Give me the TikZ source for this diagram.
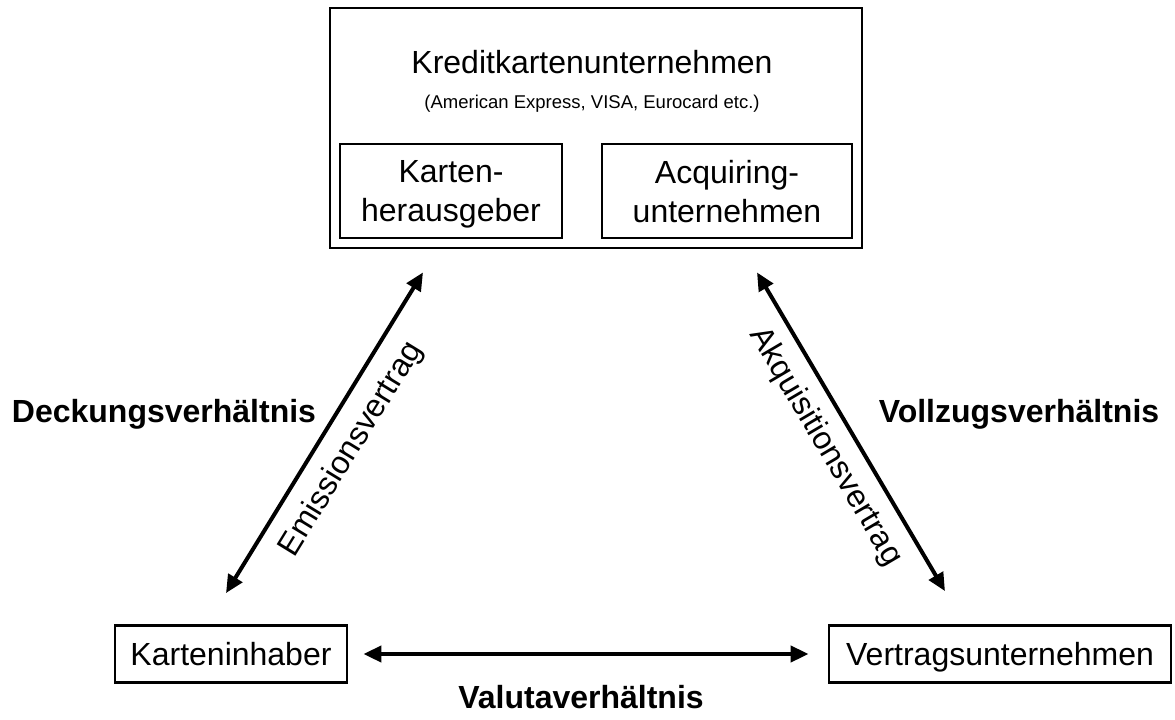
\documentclass[tikz,border=0pt]{standalone}
\usepackage{fontspec}
\setmainfont{Liberation Sans}
\usepackage{tikz}
\usetikzlibrary{positioning,arrows.meta}

\begin{document}
\begin{tikzpicture}[x=0.5pt,y=-0.5pt,
    every node/.style={font=\fontsize{16}{19.5}\selectfont},
    box/.style={draw,line width=1.4pt,inner sep=0pt,align=center,text depth=0pt},
    rel/.style={font=\fontsize{16}{19}\selectfont\bfseries},
    arr/.style={{Triangle[length=9pt,width=8pt]}-{Triangle[length=9pt,width=8pt]},line width=2pt}]
  \useasboundingbox (0,0) rectangle (1175,719);
  \node[box,minimum width=266pt,minimum height=120pt] (KU) at (596,128) {};
  \node (KUname) at (592,62) {Kreditkartenunternehmen};
  \node[font=\fontsize{9.25}{11}\selectfont] (KUex) at (592,104) {(American Express, VISA, Eurocard etc.)};
  \node[box,minimum width=111pt,minimum height=47pt] (KH) at (451,191) {Karten-\\herausgeber};
  \node[box,minimum width=125pt,minimum height=47pt] (AU) at (727,191) {Acquiring-\\unternehmen};
  \node[box,minimum width=116pt,minimum height=28.5pt] (KI) at (231,654) {Karteninhaber};
  \node[box,minimum width=171pt,minimum height=28.5pt] (VU) at (1000,654) {Vertragsunternehmen};
  \coordinate (emA) at ([xshift=-2.5pt,yshift=15.5pt]KI.north);
  \coordinate (emB) at ([xshift=-86.5pt,yshift=-11.5pt]KU.south);
  \coordinate (akA) at ([xshift=80.5pt,yshift=-11.5pt]KU.south);
  \coordinate (akB) at ([xshift=-27.5pt,yshift=16.5pt]VU.north);
  \draw[arr] (emA) -- node[sloped,below=4pt] (EV) {Emissionsvertrag} (emB);
  \draw[arr] (akA) -- node[sloped,below=3pt] (AV) {Akquisitionsvertrag} (akB);
  \draw[arr,shorten <=7.5pt,shorten >=9.5pt] (KI.east) -- (VU.west);
  \node[rel] (DV) at (164,414) {Deckungsverhältnis};
  \node[rel] (VV) at (1019,414) {Vollzugsverhältnis};
  \node[rel] (VaV) at (581,697) {Valutaverhältnis};
\end{tikzpicture}
\end{document}
